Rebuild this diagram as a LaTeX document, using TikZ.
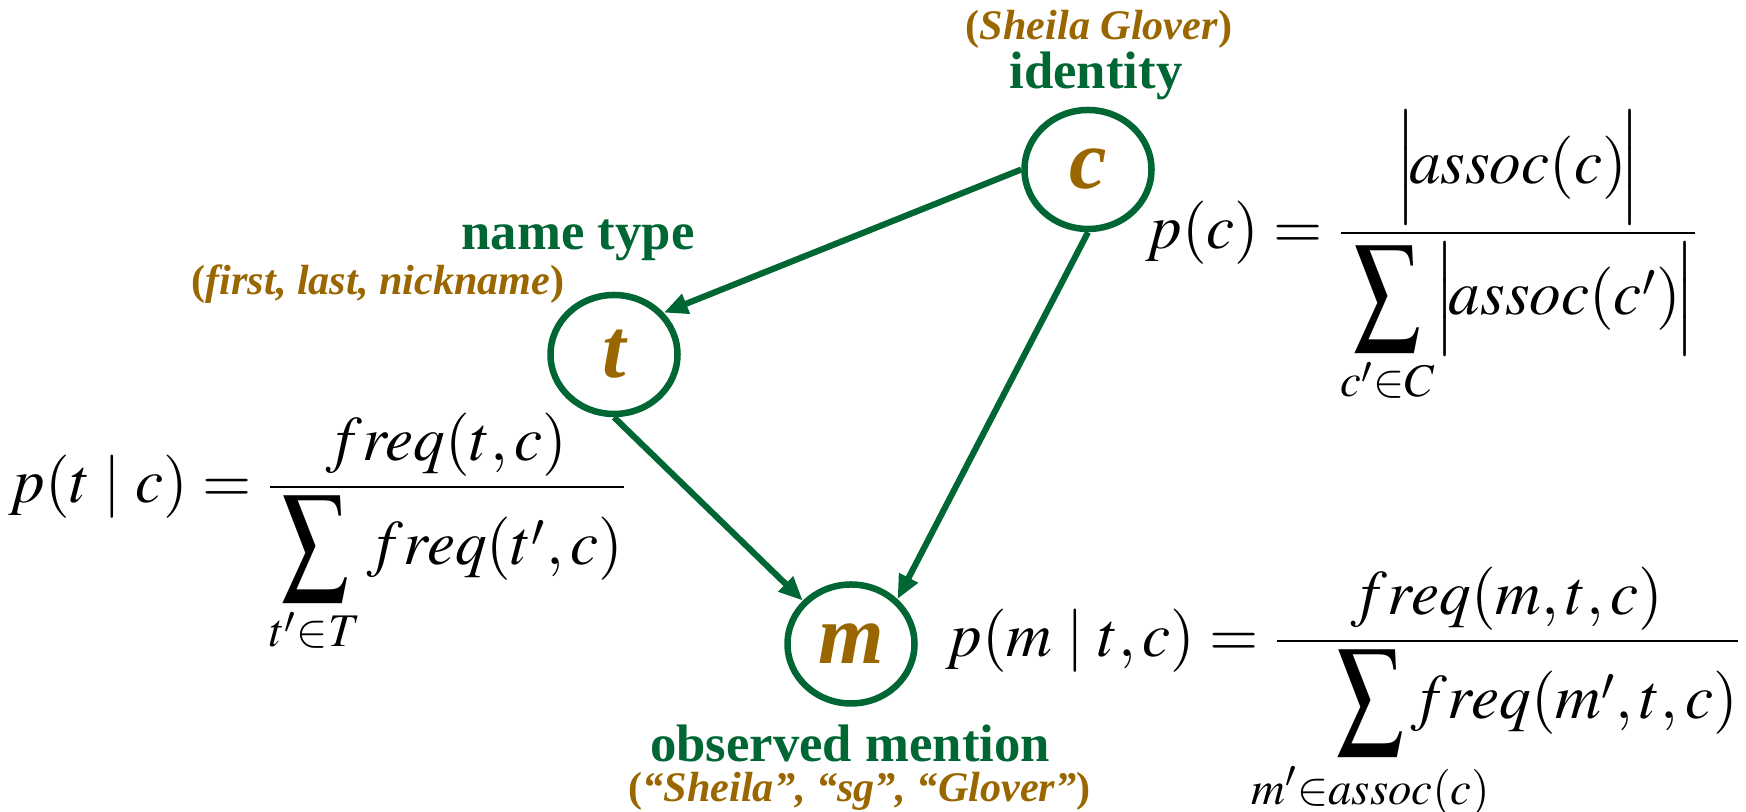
\documentclass[tikz,border=0pt]{standalone}
\usepackage{amsmath,mathtools}
\usepackage{mathptmx}
\usepackage{graphicx}
\usepackage[no-math]{fontspec}
\setmainfont{Liberation Serif}
\usetikzlibrary{arrows.meta,shapes.geometric}
\definecolor{idgreen}{RGB}{0,102,51}
\definecolor{exbrown}{RGB}{153,102,0}
\newcommand{\bigsum}{\mathop{\vcenter{\hbox{\scalebox{1.5}[1.95]{$\sum$}}}}\limits}
\tikzset{
  rv/.style={ellipse, draw=idgreen, line width=1.85pt, minimum width=1.27cm, minimum height=1.19cm,
    inner sep=0pt, text=exbrown, font=\fontsize{24}{28}\selectfont\bfseries\itshape},
  role/.style={font=\fontsize{15}{18}\selectfont\bfseries, text=idgreen, anchor=base, inner sep=0pt},
  exmp/.style={font=\fontsize{12}{14}\selectfont\bfseries, text=exbrown, anchor=base, inner sep=0pt},
  dep/.style={-{Triangle[length=2.4mm, width=2mm]}, idgreen, line width=1.75pt},
  prob/.style={font=\fontsize{18}{22}\selectfont, anchor=base west, inner sep=0pt},
}

\begin{document}
\begin{tikzpicture}
  \useasboundingbox (0,0) rectangle (17.46,8.12);
  % variables
  \node[rv] (c) at (10.88,6.425) {c};
  \node[rv] (t) at (6.14,4.575) {t};
  \node[rv] (m) at (8.51,1.68) {m};
  % labels
  \node[exmp] (cex) at (10.99,7.72) {(\textit{Sheila Glover})};
  \node[role] (crole) at (10.96,7.23) {identity};
  \node[role] (trole) at (5.78,5.62) {name type};
  \node[exmp] (tex) at (3.78,5.17) {(\textit{first, last, nickname})};
  \node[role] (mrole) at (8.50,0.50) {observed mention};
  \node[exmp] (mex) at (8.595,0.10) {(\textit{“Sheila”, “sg”, “Glover”})};
  % edges
  \draw[dep] (c.west) -- (t.40);
  \draw[dep] (c.south) -- (m.44);
  \draw[dep] (t.south) -- (m.138);
  % probabilities
  \node[prob] (pc) at (11.45,5.63)
    {$p(c)=\dfrac{\Big|\!assoc(c)\!\Big|}{\bigsum_{c'\in C}\!\Big|\!assoc(c')\!\Big|}$};
  \node[prob] (pt) at (0.08,3.09)
    {$p(t\;|\;c)=\dfrac{freq(t,c)}{\bigsum_{t'\in T}freq(t',c)}$};
  \node[prob] (pm) at (9.45,1.55)
    {$p(m\;|\;t,c)=\dfrac{freq(m,t,c)}{\kern17pt\bigsum_{\mathclap{m'\in assoc(c)}}freq(m',t,c)}$};
\end{tikzpicture}
\end{document}
